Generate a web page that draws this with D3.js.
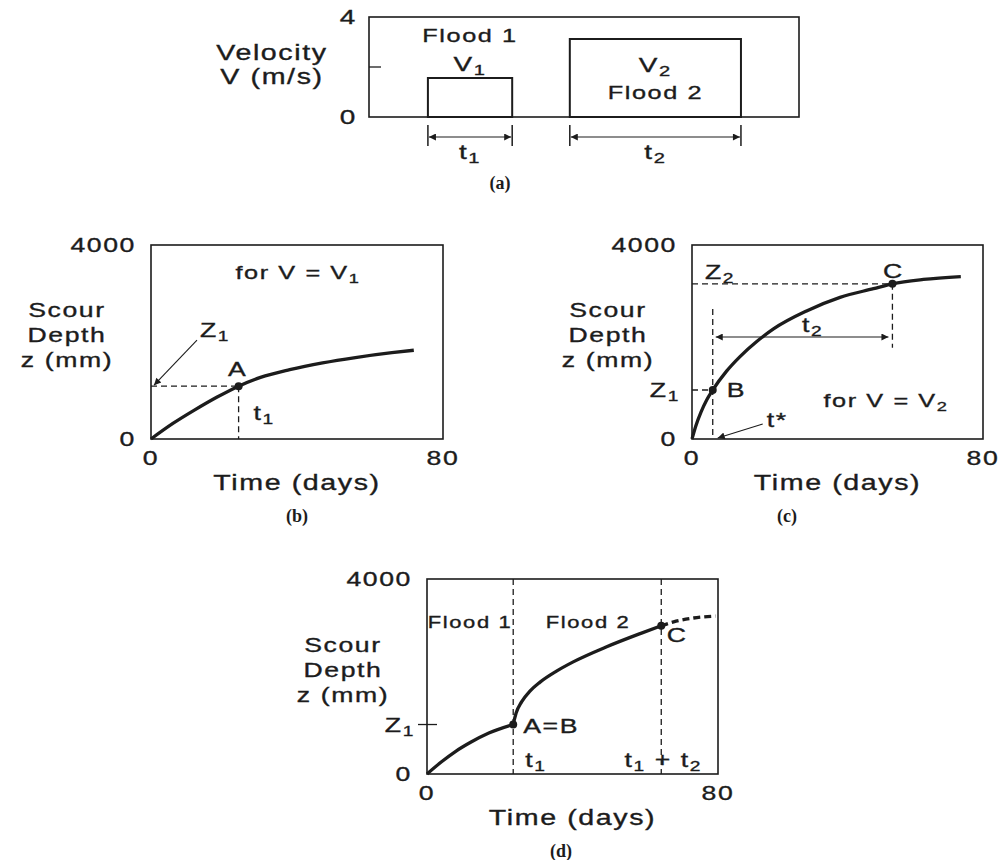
<!DOCTYPE html>
<html>
<head>
<meta charset="utf-8">
<script src="https://cdnjs.cloudflare.com/ajax/libs/d3/7.8.5/d3.min.js"></script>
<style>
body { margin: 0; background: #fff; }
text { font-family: "Liberation Sans", Arial, sans-serif; fill: #1c1c1c; stroke: #1c1c1c; stroke-width: 0.35px; letter-spacing: 1.2px; }
text.cap { font-family: "Liberation Serif", "Times New Roman", serif; font-weight: bold; letter-spacing: 0; stroke: none; }
</style>
</head>
<body>
<div id="fig"></div>
<script>
// (a) velocity history: two floods
var floodNames = ['Flood 1', 'Flood 2'];
var floodStart = [13.7, 46.7];
var floodEnd = [33.3, 86.5];
var floodVelocity = [1.56, 3.12];
var velocityTicks = [0, 2, 4];

// shared axes of the scour panels
var timeTicks = [0, 80];
var depthTicks = [0, 4000];

// (b) scour curve for V = V1
var daysB = [0, 6, 12, 18, 24, 30, 38, 47, 56, 66, 72];
var depthB = [0, 320, 600, 860, 1090, 1270, 1430, 1570, 1680, 1780, 1830];
var pointA = [24, 1090];

// (c) scour curve for V = V2
var daysC = [0, 1, 2.5, 4, 5.7, 9.5, 13.2, 17.8, 22.4, 31.5, 40.7, 49.9, 55.1, 63.6, 73.9];
var depthC = [0, 260, 560, 800, 1010, 1400, 1700, 2010, 2270, 2640, 2920, 3100, 3200, 3290, 3350];
var pointB = [5.7, 1010];
var pointC = [55.1, 3200];

// (d) combined history: flood 1, flood 2, continuation
var daysD1 = [0, 4, 8, 12, 17, 23.7];
var depthD1 = [0, 250, 470, 650, 840, 1015];
var daysD2 = [23.7, 24.5, 26, 28.3, 31, 35.6, 40.2, 49.4, 58.6, 64.4];
var depthD2 = [1015, 1250, 1480, 1700, 1880, 2110, 2300, 2610, 2880, 3040];
var daysD3 = [64.4, 67.8, 73.3, 79.3];
var depthD3 = [3040, 3120, 3200, 3240];
var pointAB = [23.7, 1015];
var pointCd = [64.4, 3040];

var ink = '#1c1c1c';
var stretch = 1.33; // the lettering of the figure is set wide
var svg = d3.select('#fig').append('svg')
    .attr('width', 1003)
    .attr('height', 860);

svg.append('defs').append('marker')
    .attr('id', 'head')
    .attr('viewBox', '0 0 10 10')
    .attr('refX', 10)
    .attr('refY', 5)
    .attr('markerWidth', 10)
    .attr('markerHeight', 7)
    .attr('markerUnits', 'userSpaceOnUse')
    .attr('orient', 'auto-start-reverse')
    .append('path')
    .attr('d', 'M0,0L10,5L0,10Z')
    .attr('fill', ink);

// text with "_x" meaning subscript x
function say(g, x, y, str, anchor, size) {
    var t = g.append('text')
        .attr('x', x)
        .attr('y', y)
        .attr('text-anchor', anchor || 'middle')
        .style('font-size', (size || 20) + 'px');
    var down = false;
    str.split(/(_.)/).forEach(function (p) {
        if (!p) return;
        if (p[0] === '_') {
            t.append('tspan').text(p[1]).style('font-size', '0.72em').attr('dy', down ? 0 : 4);
            down = true;
        } else {
            t.append('tspan').text(p).attr('dy', down ? -4 : 0);
            down = false;
        }
    });
    var len = t.node().getComputedTextLength();
    t.attr('textLength', len * stretch).attr('lengthAdjust', 'spacingAndGlyphs');
    return t;
}

function seg(g, x1, y1, x2, y2, dashed, w) {
    return g.append('line')
        .attr('x1', x1).attr('y1', y1)
        .attr('x2', x2).attr('y2', y2)
        .attr('stroke', ink)
        .attr('stroke-width', w || 1.3)
        .attr('stroke-dasharray', dashed ? '6,4' : null);
}

function curve(g, x, y, days, depth, dashed) {
    var line = d3.line()
        .x(function (i) { return x(days[i]); })
        .y(function (i) { return y(depth[i]); })
        .curve(d3.curveMonotoneX);
    g.append('path')
        .attr('d', line(d3.range(days.length)))
        .attr('fill', 'none')
        .attr('stroke', ink)
        .attr('stroke-width', 3.3)
        .attr('stroke-dasharray', dashed ? '7,4' : null);
}

function dot(g, x, y, p) {
    g.append('circle')
        .attr('cx', x(p[0]))
        .attr('cy', y(p[1]))
        .attr('r', 4)
        .attr('fill', ink);
}

// frame, ticks and titles shared by (b), (c), (d)
function scourPanel(x0, x1, y0, y1, caption, capX) {
    var x = d3.scaleLinear().domain([0, 80]).range([x0, x1]);
    var y = d3.scaleLinear().domain([0, 4000]).range([y0, y1]);
    var g = svg.append('g');
    g.append('rect')
        .attr('x', x(0)).attr('y', y(4000))
        .attr('width', x(80) - x(0)).attr('height', y(0) - y(4000))
        .attr('fill', 'none').attr('stroke', ink).attr('stroke-width', 1.6);
    depthTicks.forEach(function (v) {
        say(g, x(0) - 15, y(v) + 7, String(v), 'end', 20);
    });
    timeTicks.forEach(function (v) {
        say(g, x(v), y(0) + 26, String(v), 'middle', 20);
    });
    ['Scour', 'Depth', 'z (mm)'].forEach(function (s, i) {
        say(g, x(0) - 84, y(0) - 122 + i * 25, s, 'middle', 20);
    });
    say(g, (x(0) + x(80)) / 2, y(0) + 51, 'Time (days)', 'middle', 21.5);
    g.append('text').classed('cap', true)
        .attr('x', capX).attr('y', y(0) + 83)
        .attr('text-anchor', 'middle')
        .style('font-size', '18px')
        .text(caption);
    return { g: g, x: x, y: y };
}

// ---- (a) ----
(function () {
    var x = d3.scaleLinear().domain([0, 100]).range([369, 799]);
    var y = d3.scaleLinear().domain([0, 4]).range([117, 17]);
    var g = svg.append('g');
    g.append('rect')
        .attr('x', x(0)).attr('y', y(4))
        .attr('width', x(100) - x(0)).attr('height', y(0) - y(4))
        .attr('fill', 'none').attr('stroke', ink).attr('stroke-width', 1.6);
    velocityTicks.forEach(function (v) {
        if (v === 2) seg(g, x(0), y(v), x(0) + 12, y(v), false, 1.3);
        else say(g, x(0) - 12, y(v) + 7, String(v), 'end', 21);
    });
    say(g, 272, 60, 'Velocity', 'middle', 21.5);
    say(g, 272, 84, 'V (m/s)', 'middle', 21.5);
    floodNames.forEach(function (name, i) {
        var l = x(floodStart[i]), r = x(floodEnd[i]), top = y(floodVelocity[i]), mid = (l + r) / 2;
        g.append('rect')
            .attr('x', l).attr('y', top)
            .attr('width', r - l).attr('height', y(0) - top)
            .attr('fill', 'none').attr('stroke', ink).attr('stroke-width', 2);
        seg(g, l, 125, l, 146, false, 1.5);
        seg(g, r, 125, r, 146, false, 1.5);
        seg(g, l + 1, 137, r - 1, 137, false, 1.1)
            .attr('marker-start', 'url(#head)')
            .attr('marker-end', 'url(#head)');
        say(g, mid, 159, 't_' + (i + 1), 'middle', 21);
        if (i === 0) {
            say(g, mid, top - 36, name, 'middle', 19);
            say(g, mid, top - 7, 'V_1', 'middle', 21);
        } else {
            say(g, mid, top + 33, 'V_2', 'middle', 21);
            say(g, mid, top + 60, name, 'middle', 19);
        }
    });
    g.append('text').classed('cap', true)
        .attr('x', 500).attr('y', 189)
        .attr('text-anchor', 'middle')
        .style('font-size', '18px')
        .text('(a)');
})();

// ---- (b) ----
(function () {
    var p = scourPanel(151, 443, 439, 245, '(b)', 297), g = p.g, x = p.x, y = p.y;
    curve(g, x, y, daysB, depthB);
    seg(g, x(0), y(pointA[1]), x(pointA[0]), y(pointA[1]), true);
    seg(g, x(pointA[0]), y(pointA[1]), x(pointA[0]), y(0), true);
    dot(g, x, y, pointA);
    say(g, x(pointA[0]) - 1, y(pointA[1]) - 10, 'A', 'middle', 20);
    say(g, x(pointA[0]) + 15, y(0) - 19, 't_1', 'start', 20);
    say(g, 298, 279, 'for V = V_1', 'middle', 19);
    say(g, x(0) + 49, y(pointA[1]) - 49, 'Z_1', 'start', 20);
    seg(g, x(0) + 46, y(pointA[1]) - 46, x(0) + 3, y(pointA[1]) - 1, false, 1.1)
        .attr('marker-end', 'url(#head)');
})();

// ---- (c) ----
(function () {
    var p = scourPanel(692, 983, 439, 245, '(c)', 787), g = p.g, x = p.x, y = p.y;
    var bx = x(pointB[0]), by = y(pointB[1]), cx = x(pointC[0]), cy = y(pointC[1]);
    seg(g, x(0), cy, cx, cy, true);
    seg(g, cx, cy, cx, cy + 64, true);
    seg(g, x(0), by, bx, by, true);
    seg(g, bx, by - 81, bx, y(0), true);
    curve(g, x, y, daysC, depthC);
    dot(g, x, y, pointB);
    dot(g, x, y, pointC);
    seg(g, bx + 3, 337, cx - 4, 337, false, 1.1)
        .attr('marker-start', 'url(#head)')
        .attr('marker-end', 'url(#head)');
    say(g, (bx + cx) / 2 + 10, 332, 't_2', 'middle', 20);
    say(g, x(0) + 13, cy - 5, 'Z_2', 'start', 20);
    say(g, cx + 1, cy - 6, 'C', 'middle', 20);
    say(g, bx + 14, by + 7, 'B', 'start', 20);
    say(g, x(0) - 12, by + 7, 'Z_1', 'end', 20);
    say(g, 886, 407, 'for V = V_2', 'middle', 19);
    say(g, bx + 54, y(0) - 12, 't*', 'start', 20);
    seg(g, bx + 50, y(0) - 15, bx + 5, y(0) - 1, false, 1.1)
        .attr('marker-end', 'url(#head)');
})();

// ---- (d) ----
(function () {
    var p = scourPanel(427, 718, 774, 579, '(d)', 561), g = p.g, x = p.x, y = p.y;
    var ax = x(pointAB[0]), ay = y(pointAB[1]), cx = x(pointCd[0]), cy = y(pointCd[1]);
    seg(g, ax, y(4000), ax, y(0), true);
    seg(g, cx, y(4000), cx, y(0), true);
    seg(g, x(0) - 9, ay, x(0) + 10, ay, false, 1.3);
    say(g, x(0) - 12, ay + 7, 'Z_1', 'end', 20);
    curve(g, x, y, daysD1, depthD1);
    curve(g, x, y, daysD2, depthD2);
    curve(g, x, y, daysD3, depthD3, true);
    dot(g, x, y, pointAB);
    dot(g, x, y, pointCd);
    say(g, 470, 628, 'Flood 1', 'middle', 16.5);
    say(g, 588, 628, 'Flood 2', 'middle', 16.5);
    say(g, ax + 10, ay + 8, 'A=B', 'start', 20);
    say(g, ax + 12, y(0) - 7, 't_1', 'start', 20);
    say(g, cx + 2, y(0) - 7, 't_1 + t_2', 'middle', 20);
    say(g, cx + 16, cy + 16, 'C', 'middle', 20);
})();
</script>
</body>
</html>
